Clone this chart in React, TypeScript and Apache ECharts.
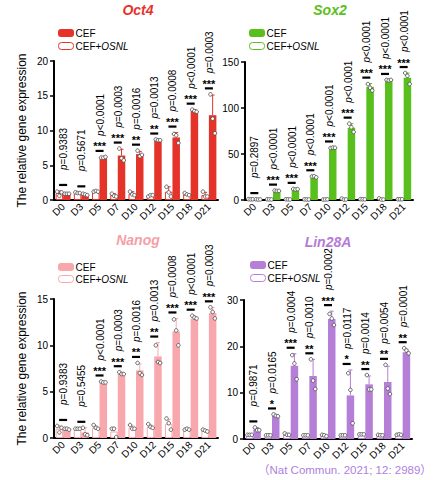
import React, { useEffect, useRef } from "react";
import * as echarts from "echarts";

const days = ["D0", "D3", "D5", "D7", "D10", "D12", "D15", "D18", "D21"];

// ---------- Oct4 ----------
const oct4Cef = [0.9, 0.8, 6.1, 6.4, 6.6, 8.6, 9.0, 12.8, 12.2];
const oct4CefErr = [0.1, 0.1, 0.1, 0.9, 0.4, 0.1, 0.7, 0.2, 2.9];
const oct4CefDots = [[0.9, 0.9, 0.9], [0.9, 0.8, 0.7], [6.1, 6.1, 6.2], [7.4, 6.0, 5.7], [7.1, 6.3, 6.5], [8.7, 8.6, 8.6], [9.5, 9.3, 8.2], [13.0, 12.8, 12.7], [15.2, 11.7, 9.6]];
const oct4Osnl = [1.0, 1.0, 1.2, 0.7, 0.9, 0.6, 1.2, 0.8, 0.7];
const oct4OsnlErr = [0.3, 0.1, 0.1, 0.2, 0.3, 0.1, 0.7, 0.1, 0.4];
const oct4OsnlDots = [[1.2, 0.6, 1.1], [1.1, 1.0, 1.0], [1.2, 1.3, 1.2], [0.9, 0.6, 0.5], [1.2, 0.8, 0.7], [0.5, 0.7, 0.7], [1.9, 1.1, 0.5], [1.0, 0.8, 0.7], [1.2, 0.5, 0.5]];
const oct4P = ["=0.9383", "=0.5671", "<0.0001", "=0.0003", "=0.0016", "=0.0013", "=0.0008", "<0.0001", "=0.0003"];
const oct4Stars = ["", "", "***", "***", "**", "**", "***", "***", "***"];

// ---------- Sox2 ----------
const sox2Cef = [0.6, 9.8, 11.6, 24.6, 56.5, 78.5, 123, 130, 133];
const sox2CefErr = [0.2, 0.3, 0.5, 1.0, 0.6, 4.5, 3.5, 0.5, 5];
const sox2CefDots = [[0.8, 0.5, 0.6], [10.2, 9.8, 9.9], [12.0, 11.5, 11.8], [25.5, 25.8, 24.6], [56.5, 57.0, 56.8], [83, 79, 74], [126, 122, 119], [130.5, 130, 130.5], [138, 135, 126]];
const sox2Osnl = [0.8, 0.7, 0.7, 0.6, 0.6, 0.9, 0.8, 0.9, 0.8];
const sox2OsnlErr = [0.2, 0.1, 0.1, 0.1, 0.1, 0.5, 0.2, 0.6, 0.1];
const sox2OsnlDots = [[0.9, 0.7, 0.8], [0.8, 0.7, 0.6], [0.8, 0.7, 0.6], [0.7, 0.6, 0.6], [0.5, 0.6, 0.7], [1.5, 0.5, 0.6], [0.9, 0.8, 0.7], [1.8, 0.5, 0.5], [0.8, 0.8, 0.8]];
const sox2P = ["=0.2897", "<0.0001", "<0.0001", "<0.0001", "<0.0001", "<0.0001", "<0.0001", "<0.0001", "<0.0001"];
const sox2Stars = ["", "***", "***", "***", "***", "***", "***", "***", "***"];

// ---------- Nanog ----------
const nanogCef = [0.95, 0.6, 6.0, 7.0, 7.3, 8.8, 11.5, 12.9, 13.5];
const nanogCefErr = [0.05, 0.5, 0.1, 0.1, 0.7, 1.5, 1.4, 0.2, 0.6];
const nanogCefDots = [[1.0, 1.0, 0.9], [1.1, 0.4, 0.3], [6.1, 6.0, 6.0], [7.1, 6.9, 6.9], [8.1, 7.0, 6.8], [10.0, 8.2, 8.1], [12.8, 11.6, 10.0], [13.2, 13.0, 12.9], [14.1, 13.6, 12.9]];
const nanogOsnl = [1.0, 1.0, 1.1, 0.7, 1.1, 1.2, 1.5, 0.9, 0.8];
const nanogOsnlErr = [0.3, 0.05, 0.2, 0.4, 0.2, 0.2, 0.5, 0.05, 0.1];
const nanogOsnlDots = [[1.3, 0.6, 1.1], [1.0, 1.0, 1.0], [1.4, 1.1, 1.0], [1.0, 1.0, 0.1], [1.4, 1.0, 1.0], [1.5, 1.2, 1.1], [2.1, 1.6, 0.9], [0.9, 1.0, 0.9], [0.9, 0.8, 0.7]];
const nanogP = ["=0.9383", "=0.5455", "<0.0001", "=0.0003", "=0.0016", "=0.0013", "=0.0008", "<0.0001", "=0.0003"];
const nanogStars = ["", "", "***", "***", "**", "**", "***", "***", "***"];

// ---------- Lin28A ----------
const linCef = [2.1, 5.0, 15.8, 13.6, 25.9, 9.4, 11.8, 12.3, 18.7];
const linCefErr = [0.4, 0.3, 2.6, 3.6, 1.7, 5.5, 1.8, 3.4, 0.6];
const linCefDots = [[2.5, 1.9, 1.9], [5.3, 5.0, 4.9], [18.1, 16.3, 12.9], [17.2, 12.6, 10.8], [27.0, 26.0, 24.6], [14.2, 10.6, 3.4], [13.8, 10.7, 10.7], [16.0, 10.9, 9.7], [19.6, 19.1, 18.5]];
const linOsnl = [0.9, 0.8, 1.0, 0.8, 0.8, 0.8, 1.0, 0.8, 0.9];
const linOsnlErr = [0.05, 0.05, 0.2, 0.05, 0.2, 0.05, 0.05, 0.1, 0.1];
const linOsnlDots = [[0.9, 0.9, 0.9], [0.8, 0.8, 0.8], [1.2, 0.9, 0.9], [0.8, 0.8, 0.8], [0.9, 0.8, 0.6], [0.8, 0.8, 0.8], [1.0, 1.0, 1.0], [0.9, 0.8, 0.8], [0.9, 1.0, 0.9]];
const linP = ["=0.9871", "=0.0165", "=0.0004", "=0.0010", "=0.0002", "=0.0117", "=0.0014", "=0.0054", "=0.0001"];
const linStars = ["", "*", "***", "**", "***", "*", "**", "**", "**"];

const yTitle = "The relative gene expression";
const citation = "（Nat Commun. 2021; 12: 2989）";

const FONT = "'Liberation Sans', Arial, Helvetica, 'Noto Sans CJK SC', sans-serif";
const BW = 7.5;
const DOT_OFF = [-2.2, 0, 2.2];

const panels = [
  {
    title: "Oct4", color: "#e5332a", titleColor: "#e8322a",
    cef: oct4Cef, cefErr: oct4CefErr, cefDots: oct4CefDots,
    osnl: oct4Osnl, osnlErr: oct4OsnlErr, osnlDots: oct4OsnlDots,
    p: oct4P, stars: oct4Stars, max: 20, interval: 5,
    grid: { left: 54, top: 61, width: 164, height: 139 },
    titleX: 138, titleTop: 3, legX: 58, legY: [33, 46], yName: true,
  },
  {
    title: "Sox2", color: "#58bf1c", titleColor: "#5cbf20",
    cef: sox2Cef, cefErr: sox2CefErr, cefDots: sox2CefDots,
    osnl: sox2Osnl, osnlErr: sox2OsnlErr, osnlDots: sox2OsnlDots,
    p: sox2P, stars: sox2Stars, max: 150, interval: 50,
    grid: { left: 245, top: 62, width: 168, height: 138 },
    titleX: 330, titleTop: 3, legX: 249, legY: [33, 46], yName: false,
  },
  {
    title: "Nanog", color: "#f8a7ac", titleColor: "#f6a0a6",
    cef: nanogCef, cefErr: nanogCefErr, cefDots: nanogCefDots,
    osnl: nanogOsnl, osnlErr: nanogOsnlErr, osnlDots: nanogOsnlDots,
    p: nanogP, stars: nanogStars, max: 15, interval: 5,
    grid: { left: 54, top: 299, width: 164, height: 139 },
    titleX: 138, titleTop: 233, legX: 58, legY: [267, 279], yName: true,
  },
  {
    title: "Lin28A", color: "#b57fd8", titleColor: "#b47cd6",
    cef: linCef, cefErr: linCefErr, cefDots: linCefDots,
    osnl: linOsnl, osnlErr: linOsnlErr, osnlDots: linOsnlDots,
    p: linP, stars: linStars, max: 30, interval: 10,
    grid: { left: 244, top: 300, width: 168, height: 139 },
    titleX: 328, titleTop: 235, legX: 250, legY: [265, 278], yName: false,
  },
];

function buildOption() {
  const grid: any[] = [];
  const xAxis: any[] = [];
  const yAxis: any[] = [];
  const series: any[] = [];
  const title: any[] = [];
  const graphic: any[] = [];

  panels.forEach((pn, k) => {
    grid.push({ ...pn.grid, containLabel: false });
    xAxis.push({
      type: "category", gridIndex: k, data: days,
      axisLine: { lineStyle: { color: "#000", width: 2 } },
      axisTick: { alignWithLabel: true, length: 4, lineStyle: { color: "#000", width: 1.5 } },
      axisLabel: { rotate: 45, fontSize: 10, color: "#000", margin: 5, interval: 0, fontFamily: FONT },
    });
    yAxis.push({
      type: "value", gridIndex: k, min: 0, max: pn.max, interval: pn.interval,
      axisLine: { show: true, lineStyle: { color: "#000", width: 2 } },
      axisTick: { show: true, length: 4, lineStyle: { color: "#000", width: 1.5 } },
      axisLabel: { fontSize: 10, color: "#000", margin: 6, fontFamily: FONT },
      splitLine: { show: false },
      name: pn.yName ? yTitle : "",
      nameLocation: "middle", nameGap: 26,
      nameTextStyle: { fontSize: 12, color: "#000", fontFamily: FONT },
    });
    series.push({
      type: "bar", name: "CEF+OSNL", xAxisIndex: k, yAxisIndex: k, data: pn.osnl,
      barWidth: BW, barGap: "0%",
      itemStyle: { color: "#fff", borderColor: pn.color, borderWidth: 1 }, z: 2,
    });
    series.push({
      type: "bar", name: "CEF", xAxisIndex: k, yAxisIndex: k, data: pn.cef,
      barWidth: BW, barGap: "0%",
      itemStyle: { color: pn.color }, z: 2,
    });
    // error bars + individual points
    series.push({
      type: "custom", name: "points-" + pn.title, xAxisIndex: k, yAxisIndex: k, z: 4,
      data: days.map((_, i) => [i, pn.cef[i]]),
      renderItem: (params: any, api: any) => {
        const i = params.dataIndex;
        const cx = api.coord([i, 0])[0];
        const children: any[] = [];
        const groups = [
          { off: -BW / 2, v: pn.osnl[i], e: pn.osnlErr[i], dots: pn.osnlDots[i] },
          { off: BW / 2, v: pn.cef[i], e: pn.cefErr[i], dots: pn.cefDots[i] },
        ];
        groups.forEach((g) => {
          const x = cx + g.off;
          const y1 = api.coord([i, g.v])[1];
          const y2 = api.coord([i, g.v + g.e])[1];
          children.push({ type: "line", shape: { x1: x, y1, x2: x, y2 }, style: { stroke: pn.color, lineWidth: 1 } });
          children.push({ type: "line", shape: { x1: x - 2, y1: y2, x2: x + 2, y2 }, style: { stroke: pn.color, lineWidth: 1 } });
        });
        groups.forEach((g) => {
          const x = cx + g.off;
          g.dots.forEach((d: number, j: number) => {
            const y = api.coord([i, d])[1];
            children.push({ type: "circle", shape: { cx: x + DOT_OFF[j], cy: y, r: 1.8 }, style: { fill: "#fff", stroke: "#444", lineWidth: 0.8 } });
          });
        });
        return { type: "group", children };
      },
    });
    // significance annotations
    series.push({
      type: "custom", name: "sig-" + pn.title, xAxisIndex: k, yAxisIndex: k, z: 5,
      data: days.map((_, i) => [i, pn.cef[i]]),
      renderItem: (params: any, api: any) => {
        const i = params.dataIndex;
        const cx = api.coord([i, 0])[0];
        const top = Math.max(pn.cef[i] + pn.cefErr[i], pn.osnl[i] + pn.osnlErr[i], ...pn.cefDots[i], ...pn.osnlDots[i]);
        const ly = api.coord([i, top])[1] - 6;
        const children: any[] = [
          { type: "line", shape: { x1: cx - 4, y1: ly, x2: cx + 4, y2: ly }, style: { stroke: "#000", lineWidth: 2.2 } },
        ];
        if (pn.stars[i]) {
          children.push({
            type: "text", x: cx, y: ly + 1,
            style: { text: pn.stars[i], fill: "#000", fontSize: 11, fontWeight: "bold", fontFamily: FONT, align: "center", verticalAlign: "bottom" },
          });
        }
        children.push({
          type: "text", x: cx + 0.5, y: ly - 15, rotation: Math.PI / 2,
          style: {
            text: "{i|p}" + pn.p[i], fill: "#000", fontSize: 10, fontFamily: FONT, align: "left", verticalAlign: "middle",
            rich: { i: { fontStyle: "italic", fontSize: 10, fontFamily: FONT, fill: "#000" } },
          },
        });
        return { type: "group", children };
      },
    });

    title.push({
      text: pn.title, left: pn.titleX, top: pn.titleTop, textAlign: "center", padding: 0,
      textStyle: { fontSize: 14, fontStyle: "italic", fontWeight: "bold", color: pn.titleColor, fontFamily: FONT },
    });

    // legend
    graphic.push({ type: "rect", x: pn.legX, y: pn.legY[0] - 4, shape: { width: 16, height: 8, r: 3 }, style: { fill: pn.color } });
    graphic.push({ type: "text", x: pn.legX + 17.5, y: pn.legY[0], style: { text: "CEF", fill: "#000", fontSize: 10, fontFamily: FONT, verticalAlign: "middle" } });
    graphic.push({ type: "rect", x: pn.legX + 0.5, y: pn.legY[1] - 3.5, shape: { width: 15, height: 7, r: 3 }, style: { fill: "#fff", stroke: pn.color, lineWidth: 1 } });
    graphic.push({
      type: "text", x: pn.legX + 17.5, y: pn.legY[1],
      style: { text: "CEF+{i|OSNL}", fill: "#000", fontSize: 10, fontFamily: FONT, verticalAlign: "middle", rich: { i: { fontStyle: "italic", fontSize: 10, fontFamily: FONT, fill: "#000" } } },
    });
  });

  title.push({
    text: citation, left: 258, top: 464, padding: 0,
    textStyle: { fontSize: 11.5, fontWeight: "normal", color: "#ae7fe0", fontFamily: FONT },
  });

  return { animation: false, backgroundColor: "#fff", title, grid, xAxis, yAxis, series, graphic };
}

export default function App() {
  const ref = useRef<HTMLDivElement>(null);
  useEffect(() => {
    if (!ref.current) return;
    const chart = echarts.init(ref.current, undefined, { renderer: "svg" });
    chart.setOption(buildOption() as any);
    return () => chart.dispose();
  }, []);
  return <div ref={ref} style={{ position: "absolute", left: 0, top: 0, width: 441, height: 480 }} />;
}
